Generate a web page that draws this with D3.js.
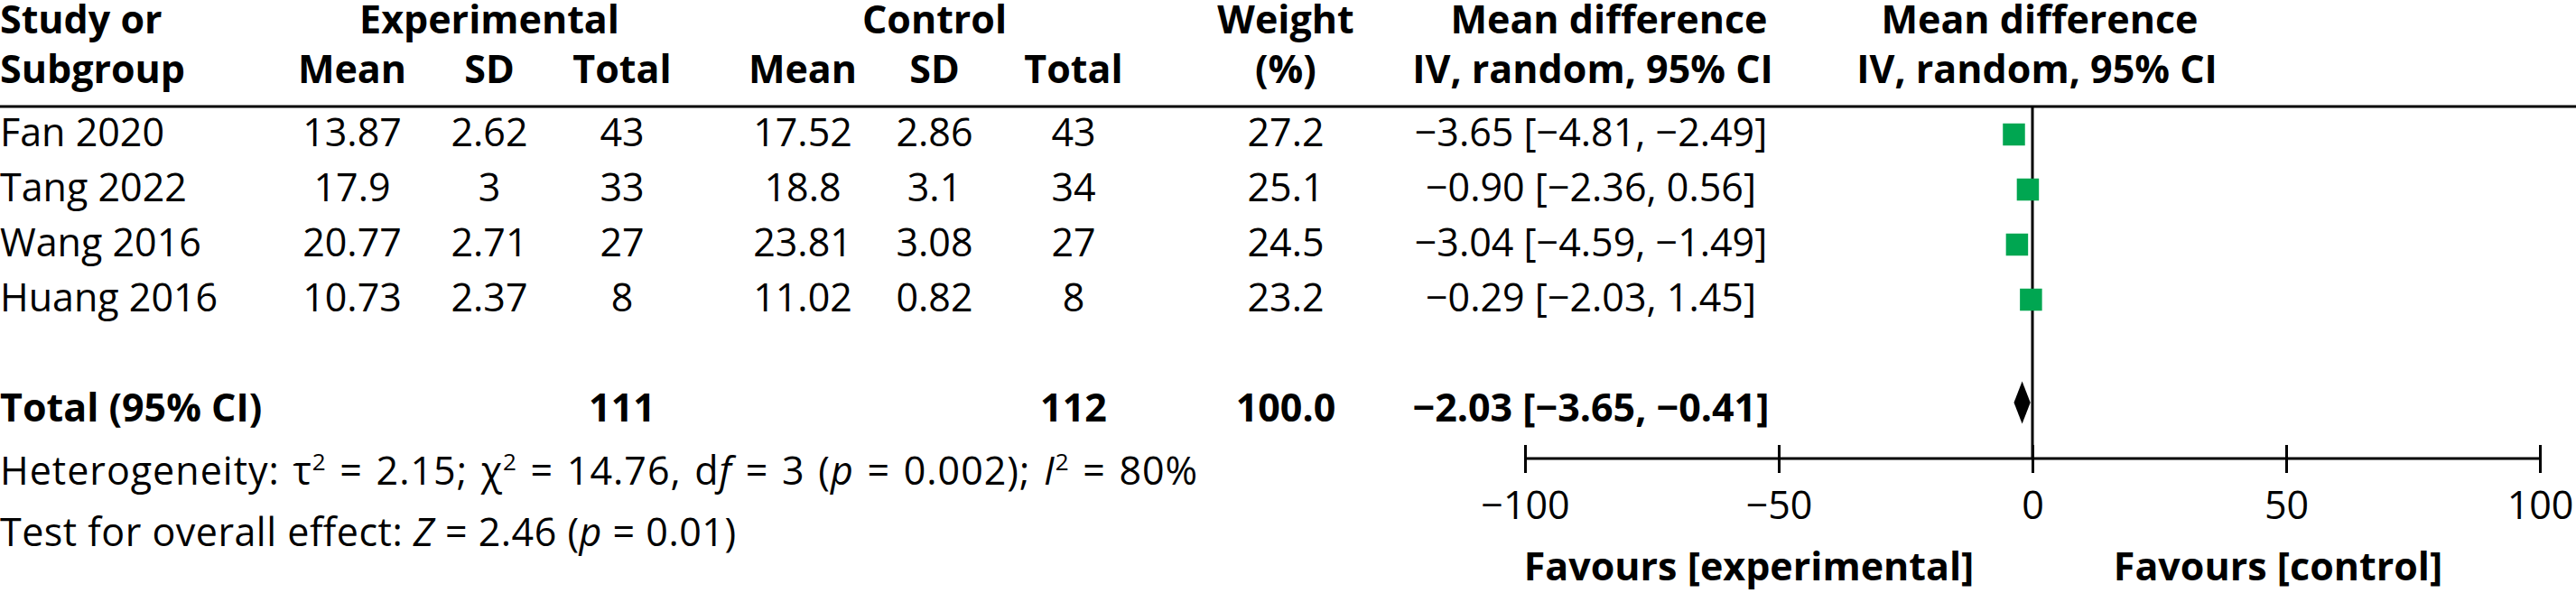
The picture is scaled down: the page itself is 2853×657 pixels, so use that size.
<!DOCTYPE html>
<html lang="en">
<head>
<meta charset="UTF-8">
<title>Forest plot - mean difference</title>
<style>
    body { margin: 0; background: #fff; }
    svg { display: block; }
    text { font-family: "Open Sans", "Noto Sans", sans-serif; font-size: 43px; fill: #000; }
    .bold { font-weight: bold; }
    .line { stroke: #000; stroke-width: 3; }
    .ci { stroke: #000; stroke-width: 2; }
    .box { fill: #00a651; }
</style>
</head>
<body>
<svg id="chart" width="2853" height="657"></svg>
<script src="https://d3js.org/d3.v7.min.js"></script>
<script>
// study data
const studies = ['Fan 2020', 'Tang 2022', 'Wang 2016', 'Huang 2016'];
const expMean = [13.87, 17.9, 20.77, 10.73];
const expSD = [2.62, 3, 2.71, 2.37];
const expN = [43, 33, 27, 8];
const ctlMean = [17.52, 18.8, 23.81, 11.02];
const ctlSD = [2.86, 3.1, 3.08, 0.82];
const ctlN = [43, 34, 27, 8];
const weights = [27.2, 25.1, 24.5, 23.2];
const md = [-3.65, -0.90, -3.04, -0.29];
const ciLow = [-4.81, -2.36, -4.59, -2.03];
const ciHigh = [-2.49, 0.56, -1.49, 1.45];

// pooled result
const totalExpN = 111;
const totalCtlN = 112;
const totalWeight = 100.0;
const totalMD = -2.03;
const totalLow = -3.65;
const totalHigh = -0.41;

const axisTicks = [-100, -50, 0, 50, 100];
const axisDomain = [-100, 100];

// layout (column centres, rows)
const col = {
    study: 0, eMean: 390, eSD: 542, eN: 689,
    cMean: 889, cSD: 1035, cN: 1189,
    weight: 1424, md: 1762, plot: 2256
};
const headerRule = 118;
const axisY = 508;

const svg = d3.select('#chart');
const minus = s => s.replace(/-/g, '\u2212');
const fmt2 = v => minus(v.toFixed(2));
const ciText = (m, l, h) => `${fmt2(m)} [${fmt2(l)}, ${fmt2(h)}]`;

const x = d3.scaleLinear().domain(axisDomain).range([1689, 2813]);
const y = d3.scalePoint().domain(studies).range([149, 332]);

function txt(xPos, yPos, s, anchor, cls) {
    return svg.append('text')
        .attr('x', xPos).attr('y', yPos)
        .attr('text-anchor', anchor || 'middle')
        .attr('class', cls || null)
        .text(s);
}

// header
txt(col.study, 37, 'Study or', 'start', 'bold');
txt(col.study, 92, 'Subgroup', 'start', 'bold');
txt(col.eSD, 37, 'Experimental', 'middle', 'bold');
txt(col.cSD, 37, 'Control', 'middle', 'bold');
['eMean', 'cMean'].forEach(k => txt(col[k], 92, 'Mean', 'middle', 'bold'));
['eSD', 'cSD'].forEach(k => txt(col[k], 92, 'SD', 'middle', 'bold'));
['eN', 'cN'].forEach(k => txt(col[k], 92, 'Total', 'middle', 'bold'));
txt(col.weight, 37, 'Weight', 'middle', 'bold');
txt(col.weight, 92, '(%)', 'middle', 'bold');
txt(1782, 37, 'Mean difference', 'middle', 'bold');
txt(col.md + 2, 92, 'IV, random, 95% CI', 'middle', 'bold');
txt(col.plot + 3, 37, 'Mean difference', 'middle', 'bold');
txt(col.plot, 92, 'IV, random, 95% CI', 'middle', 'bold');

svg.append('line').attr('class', 'line')
    .attr('x1', 0).attr('x2', 2853)
    .attr('y1', headerRule).attr('y2', headerRule);

// study rows
studies.forEach((s, i) => {
    const by = y(s) + 13;
    txt(col.study, by, s, 'start');
    txt(col.eMean, by, String(expMean[i]));
    txt(col.eSD, by, String(expSD[i]));
    txt(col.eN, by, String(expN[i]));
    txt(col.cMean, by, String(ctlMean[i]));
    txt(col.cSD, by, String(ctlSD[i]));
    txt(col.cN, by, String(ctlN[i]));
    txt(col.weight, by, weights[i].toFixed(1));
    txt(col.md, by, ciText(md[i], ciLow[i], ciHigh[i]));
});

// total row
const totalY = 446;
txt(col.study, totalY + 21, 'Total (95% CI)', 'start', 'bold');
txt(col.eN, totalY + 21, String(totalExpN), 'middle', 'bold');
txt(col.cN, totalY + 21, String(totalCtlN), 'middle', 'bold');
txt(col.weight, totalY + 21, totalWeight.toFixed(1), 'middle', 'bold');
txt(col.md, totalY + 21, ciText(totalMD, totalLow, totalHigh), 'middle', 'bold');

// footnotes
const het = svg.append('text').attr('x', 0).attr('y', 537)
    .style('letter-spacing', '1px').style('word-spacing', '2.5px');
het.append('tspan').text('Heterogeneity: \u03c4');
het.append('tspan').attr('dy', -16).style('font-size', '26px').text('2');
het.append('tspan').attr('dy', 16).text(' = 2.15; \u03c7');
het.append('tspan').attr('dy', -16).style('font-size', '26px').text('2');
het.append('tspan').attr('dy', 16).text(' = 14.76, d');
het.append('tspan').style('font-style', 'italic').text('f');
het.append('tspan').text(' = 3 (');
het.append('tspan').style('font-style', 'italic').text('p');
het.append('tspan').text(' = 0.002); ');
het.append('tspan').style('font-style', 'italic').text('I');
het.append('tspan').attr('dy', -16).style('font-size', '26px').text('2');
het.append('tspan').attr('dy', 16).text(' = 80%');

const test = svg.append('text').attr('x', 0).attr('y', 605)
    .style('letter-spacing', '0.5px');
test.append('tspan').text('Test for overall effect: ');
test.append('tspan').style('font-style', 'italic').text('Z');
test.append('tspan').text(' = 2.46 (');
test.append('tspan').style('font-style', 'italic').text('p');
test.append('tspan').text(' = 0.01)');

// plot: zero line
svg.append('line').attr('class', 'line')
    .attr('x1', x(0)).attr('x2', x(0))
    .attr('y1', headerRule).attr('y2', axisY);

// CIs and boxes
const plot = svg.append('g');
plot.selectAll('line.ci').data(studies).enter().append('line')
    .attr('class', 'ci')
    .attr('x1', (d, i) => x(ciLow[i])).attr('x2', (d, i) => x(ciHigh[i]))
    .attr('y1', d => y(d)).attr('y2', d => y(d));

const boxSize = 24.5;
plot.selectAll('rect').data(studies).enter().append('rect')
    .attr('class', 'box')
    .attr('x', (d, i) => x(md[i]) - boxSize / 2)
    .attr('y', d => y(d) - boxSize / 2)
    .attr('width', boxSize).attr('height', boxSize);

// pooled diamond
plot.append('path')
    .attr('d', `M${x(totalLow)},${totalY} L${x(totalMD)},${totalY - 23.5} ` +
        `L${x(totalHigh)},${totalY} L${x(totalMD)},${totalY + 23.5} Z`)
    .attr('fill', '#000');

// axis
const axis = svg.append('g')
    .attr('transform', `translate(0,${axisY})`)
    .call(d3.axisBottom(x).tickValues(axisTicks).tickSize(16).tickSizeOuter(0));
axis.select('.domain').attr('stroke-width', 3).attr('d', `M${x(-100)},0H${x(100)}`);
axis.selectAll('.tick line').attr('stroke-width', 3).attr('y1', -15).attr('y2', 16);
axis.selectAll('.tick text')
    .attr('y', 67).attr('dy', 0)
    .style('font-size', '43px')
    .style('font-family', '"Open Sans", "Noto Sans", sans-serif');

txt(1937, 643, 'Favours [experimental]', 'middle', 'bold');
txt(2523, 643, 'Favours [control]', 'middle', 'bold');
</script>
</body>
</html>
